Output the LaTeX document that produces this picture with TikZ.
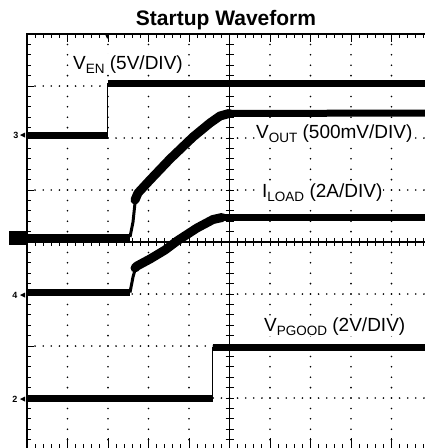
\documentclass[tikz,border=0pt]{standalone}
\usepackage{fontspec}
\setmainfont{Liberation Sans}
\usepackage{tikz}
\tikzstyle{lbl}=[fill=white,inner sep=1pt,anchor=base west,font=\fontsize{19}{20}\selectfont]
\tikzstyle{trace}=[line width=7pt,line join=round]
\tikzstyle{ramp}=[line width=9pt,line join=round,line cap=round]
\tikzstyle{riser}=[line width=1.5pt]
\tikzstyle{tk}=[line width=1pt]
\tikzstyle{ax}=[line width=1.8pt]
\tikzstyle{mk}=[font=\bfseries\fontsize{9}{9}\selectfont,inner sep=0]
\newcommand{\lsub}[1]{\raisebox{-4pt}{\fontsize{13.5}{14}\selectfont #1}}

\begin{document}
\begin{tikzpicture}[x=1pt,y=-1pt]
	\useasboundingbox (0,0) rectangle (425,448);

	\begin{scope}
	\clip (0,0) rectangle (425,448);
	\foreach \j in {1,2,3,5,6,7}
		\foreach \k in {1,...,52}
			\fill ({27+8.1*\k},{34+52*\j}) circle (0.9pt);
	\foreach \i in {1,2,3,4,6,7,8,9}
		\foreach \k in {1,...,40}
			\fill ({27+40.5*\i},{34+10.4*\k}) circle (0.9pt);

	\draw[line width=1.5pt] (27,452) -- (27,34) -- (432,34);
	\draw[line width=1.5pt] (27,450) -- (432,450);
	\foreach \k in {0,...,51} {
		\draw[tk] ({27+8.1*\k},34) -- ++(0,4);
		\draw[tk] ({27+8.1*\k},450) -- ++(0,-6);
		\draw[tk] ({27+8.1*\k},238) -- ++(0,8);
	}
	\foreach \i in {0,...,10} {
		\draw[tk] ({27+40.5*\i},34) -- ++(0,8);
		\draw[tk] ({27+40.5*\i},450) -- ++(0,-12);
	}
	\foreach \k in {0,...,40} {
		\draw[tk] (27,{34+10.4*\k}) -- ++(3.5,0);
		\draw[tk] (225.5,{34+10.4*\k}) -- ++(8,0);
	}
	\foreach \j in {0,...,8}
		\draw[tk] (27,{34+52*\j}) -- ++(7,0);
	\draw[ax] (27,242) -- (432,242);
	\draw[ax] (229.5,34) -- (229.5,452);

	\fill (105,34) -- (109.5,34) -- (107.25,39) -- cycle;

	\draw[trace] (27,135) -- (107.5,135);
	\draw[riser] (107.5,135) -- (107.5,83);
	\draw[trace] (107.5,83) -- (425,83);

	\draw[trace] (27,237) -- (130,237);
	\draw[riser,line width=3pt] (130,237) -- (133,222) -- (135,203);
	\draw[ramp] (135,200) -- (138,193) -- (150,180) -- (170,159) -- (193,137)
		-- (210,123) -- (220,116) -- (229,113.5);
	\draw[trace] (225,113.5) -- (425,113);

	\draw[trace] (27,292.5) -- (130,292.5);
	\draw[riser,line width=3pt] (130,292.5) -- (133,277) -- (135,270);
	\draw[ramp] (135,268) -- (137,266) -- (150,259) -- (165,250) -- (177,241)
		-- (197,228) -- (213,219.5) -- (222,217.5);
	\draw[trace] (220,217.5) -- (425,217.5);

	\draw[trace] (27,398) -- (212.5,398);
	\draw[riser] (212.5,398) -- (212.5,347);
	\draw[trace] (212.5,347) -- (425,347);
	\end{scope}

	\fill (9,231) rectangle (27,245);
	\node[mk] (m3) at (16,135) {3};
	\node[mk] (m4) at (15,295) {4};
	\node[mk] (m2) at (15,399) {2};
	\fill (20,135) -- (25,132.5) -- (25,137.5) -- cycle;
	\fill (20,295) -- (25,292.5) -- (25,297.5) -- cycle;
	\fill (20,399) -- (25,396.5) -- (25,401.5) -- cycle;

	\node[anchor=base,font=\bfseries\fontsize{21}{22}\selectfont] (title) at (226,25.5) {Startup Waveform};
	\node[lbl] (en) at (72,69) {V\lsub{EN} (5V/DIV)};
	\node[lbl] (out) at (255,138) {V\lsub{OUT} (500mV/DIV)};
	\node[lbl] (load) at (261,197) {I\lsub{LOAD} (2A/DIV)};
	\node[lbl] (pg) at (263,331) {V\lsub{PGOOD} (2V/DIV)};

\end{tikzpicture}
\end{document}
